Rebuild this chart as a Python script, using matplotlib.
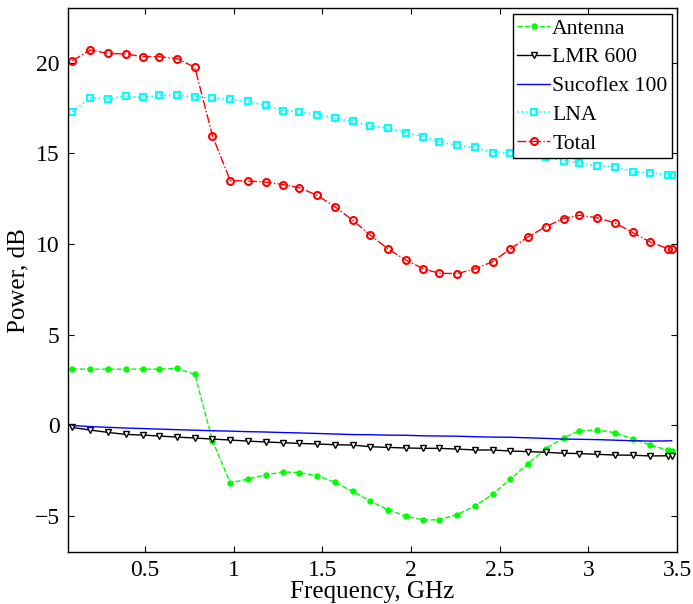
import matplotlib
matplotlib.use("Agg")
import matplotlib.pyplot as plt

freq = [0.09, 0.19, 0.29, 0.39, 0.49, 0.58, 0.68, 0.78, 0.88, 0.98,
        1.08, 1.18, 1.28, 1.37, 1.47, 1.57, 1.67, 1.77, 1.87, 1.97,
        2.07, 2.16, 2.26, 2.36, 2.46, 2.56, 2.66, 2.76, 2.86, 2.95,
        3.05, 3.15, 3.25, 3.35, 3.45, 3.47]

antenna = [3.09, 3.09, 3.09, 3.09, 3.09, 3.09, 3.13, 2.80, -0.86, -3.18,
           -2.98, -2.74, -2.58, -2.62, -2.79, -3.15, -3.66, -4.19, -4.67, -5.03,
           -5.23, -5.22, -4.94, -4.46, -3.81, -2.98, -2.12, -1.30, -0.70, -0.31,
           -0.26, -0.42, -0.75, -1.11, -1.38, -1.42]

lmr600 = [-0.13, -0.27, -0.40, -0.51, -0.55, -0.60, -0.66, -0.71, -0.77, -0.82,
          -0.88, -0.93, -0.97, -1.01, -1.04, -1.08, -1.10, -1.19, -1.23, -1.26,
          -1.28, -1.28, -1.32, -1.37, -1.37, -1.43, -1.46, -1.50, -1.55, -1.57,
          -1.61, -1.65, -1.66, -1.70, -1.69, -1.70]

sucoflex = [-0.02, -0.08, -0.12, -0.16, -0.19, -0.22, -0.25, -0.28, -0.31, -0.33,
            -0.36, -0.38, -0.41, -0.43, -0.46, -0.49, -0.52, -0.53, -0.55, -0.56,
            -0.59, -0.60, -0.61, -0.64, -0.66, -0.67, -0.70, -0.73, -0.77, -0.78,
            -0.80, -0.83, -0.86, -0.88, -0.87, -0.86]

lna = [17.29, 18.06, 18.02, 18.15, 18.08, 18.19, 18.19, 18.12, 18.05, 17.97,
       17.86, 17.64, 17.36, 17.29, 17.13, 16.93, 16.76, 16.52, 16.38, 16.14,
       15.92, 15.63, 15.43, 15.32, 15.03, 15.01, 14.88, 14.77, 14.60, 14.49,
       14.29, 14.27, 13.98, 13.93, 13.80, 13.80]

total = [20.11, 20.70, 20.51, 20.48, 20.33, 20.33, 20.22, 19.75, 15.96, 13.49,
         13.47, 13.41, 13.27, 13.10, 12.68, 12.06, 11.31, 10.49, 9.72, 9.11,
         8.62, 8.38, 8.36, 8.62, 9.02, 9.72, 10.39, 10.95, 11.40, 11.58,
         11.44, 11.16, 10.63, 10.10, 9.73, 9.72]

xticks = [0.5, 1, 1.5, 2, 2.5, 3, 3.5]
xticklabels = ["0.5", "1", "1.5", "2", "2.5", "3", "3.5"]
yticks = [-5, 0, 5, 10, 15, 20]

plt.rcParams['font.family'] = ['Liberation Serif', 'DejaVu Serif']

fig = plt.figure(figsize=(6.93, 6.04), dpi=100)
ax = fig.add_axes([68/693, 1-552/604, (677-68)/693, (552-8.3)/604])

lw = 1.0
ax.plot(freq, antenna, '--', color=(0, 1, 0), marker='o', markersize=3.6,
        markerfacecolor=(0, 1, 0), markeredgecolor=(0, 1, 0), lw=lw, label='Antenna')
ax.plot(freq, lmr600, '-', color='k', marker='v', markersize=5,
        markerfacecolor='white', markeredgecolor='k', markeredgewidth=1.0, lw=lw, label='LMR 600')
ax.plot(freq, sucoflex, '-', color='b', lw=lw, label='Sucoflex 100')
ax.plot(freq, lna, ':', color=(0, 1, 1), marker='s', markersize=4,
        markerfacecolor='none', markeredgecolor=(0, 1, 1), markeredgewidth=1.5, lw=1.2, label='LNA')
ax.plot(freq, total, '-.', color='r', marker='o', markersize=5,
        markerfacecolor='none', markeredgecolor='r', markeredgewidth=1.5, lw=lw, label='Total')

ax.set_xlim(0.065, 3.5)
ax.set_ylim(-7, 23)
ax.set_xticks(xticks)
ax.set_xticklabels(xticklabels)
ax.set_yticks(yticks)
ax.tick_params(direction='in', top=True, right=True, length=4.5, width=0.8,
               labelsize=17, pad=6)
for s in ax.spines.values():
    s.set_linewidth(1.0)

ax.set_xlabel('Frequency, GHz', fontsize=18, labelpad=0)
ax.set_ylabel('Power, dB', fontsize=18, labelpad=4)

leg = ax.legend(loc='upper right', bbox_to_anchor=(0.9913, 0.9895), borderaxespad=0,
                fontsize=15.6, handlelength=1.5, handletextpad=0.1, labelspacing=0.4,
                borderpad=0.2, fancybox=False, framealpha=1, edgecolor='k')
leg.get_frame().set_linewidth(1.0)

fig.savefig('out.png', dpi=100)
